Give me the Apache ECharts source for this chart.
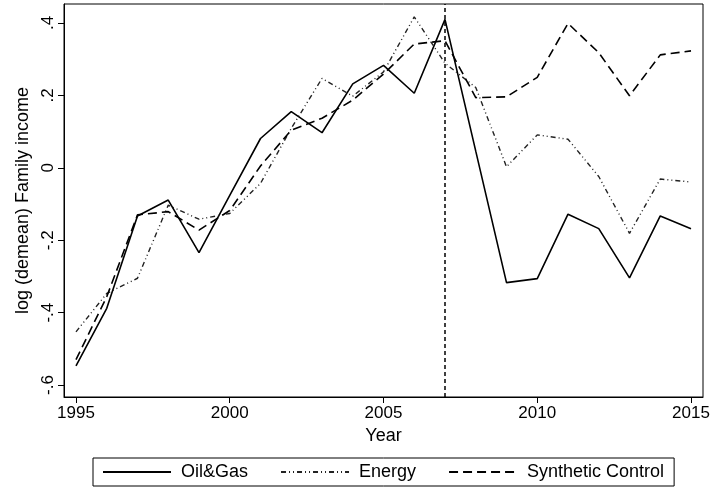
<!DOCTYPE html>
<html>
<head>
<meta charset="utf-8">
<script src="https://cdn.jsdelivr.net/npm/echarts@6/dist/echarts.min.js"></script>
<style>
  html, body { margin: 0; padding: 0; background: #fff; }
  #chart { width: 711px; height: 488px; }
</style>
</head>
<body>
<div id="chart"></div>
<script>
// ---- Data ----
const years = [1995,1996,1997,1998,1999,2000,2001,2002,2003,2004,2005,2006,2007,2008,2009,2010,2011,2012,2013,2014,2015];
const oilGas = [-0.547,-0.388,-0.133,-0.089,-0.234,-0.076,0.081,0.155,0.097,0.232,0.283,0.206,0.410,0.046,-0.317,-0.306,-0.128,-0.168,-0.304,-0.133,-0.168];
const energy = [-0.453,-0.347,-0.305,-0.103,-0.142,-0.126,-0.043,0.109,0.247,0.198,0.265,0.417,0.289,0.222,0.003,0.091,0.079,-0.024,-0.181,-0.031,-0.039];
const synthetic = [-0.530,-0.356,-0.130,-0.121,-0.172,-0.118,0.005,0.104,0.137,0.187,0.259,0.342,0.351,0.194,0.196,0.250,0.399,0.318,0.199,0.312,0.323];
const seriesNames = ['Oil&Gas','Energy','Synthetic Control'];
const xTicks = [1995,2000,2005,2010,2015];
const yTicks = [-0.6,-0.4,-0.2,0,0.2,0.4];
const treatmentYear = 2007;
const xTitle = 'Year';
const yTitle = 'log (demean) Family income';

const FONT = '"Liberation Sans", Arial, Helvetica, sans-serif';
function pairs(vals) { return years.map((y, i) => [y, vals[i]]); }
function fmtY(v) {
  const r = Math.round(v * 10) / 10;
  if (r === 0) return '0';
  return String(r).replace('0.', '.');
}

const chart = echarts.init(document.getElementById('chart'), null, { renderer: 'canvas' });
const lineBase = { type: 'line', symbol: 'none', showSymbol: false, animation: false, z: 3 };

chart.setOption({
  backgroundColor: '#ffffff',
  animation: false,
  grid: {
    left: 64, right: 8, top: 4, bottom: 91,
    containLabel: false, outerBoundsMode: 'none',
    show: true, borderColor: '#000', borderWidth: 1, backgroundColor: 'transparent'
  },
  xAxis: {
    type: 'value',
    min: 1994.61, max: 2015.39,
    name: xTitle, nameLocation: 'middle', nameGap: 27,
    nameTextStyle: { fontFamily: FONT, fontSize: 18, color: '#000' },
    axisLine: { show: true, onZero: false, lineStyle: { color: '#000', width: 1 } },
    splitLine: { show: false },
    axisTick: { show: true, length: 6, inside: false, customValues: xTicks, lineStyle: { color: '#000', width: 1 } },
    axisLabel: { customValues: xTicks, margin: 8, fontFamily: FONT, fontSize: 17, color: '#000', formatter: v => String(v) }
  },
  yAxis: {
    type: 'value',
    min: -0.633, max: 0.4525,
    name: yTitle, nameLocation: 'middle', nameGap: 27, nameRotate: 90,
    nameTextStyle: { fontFamily: FONT, fontSize: 18, color: '#000' },
    axisLine: { show: true, onZero: false, lineStyle: { color: '#000', width: 1 } },
    splitLine: { show: false },
    axisTick: { show: true, length: 6, inside: false, customValues: yTicks, lineStyle: { color: '#000', width: 1 } },
    axisLabel: { customValues: yTicks, rotate: 90, margin: 7, fontFamily: FONT, fontSize: 17, color: '#000', formatter: fmtY }
  },
  legend: {
    show: true,
    left: 93, bottom: 2,
    orient: 'horizontal',
    data: seriesNames,
    itemWidth: 68, itemHeight: 14, itemGap: 32,
    padding: [5, 10, 5, 9],
    borderColor: '#000', borderWidth: 1,
    itemStyle: { opacity: 0 },
    textStyle: { fontFamily: FONT, fontSize: 18, color: '#000', padding: [0, 0, 0, 5] }
  },
  series: [
    Object.assign({}, lineBase, {
      name: seriesNames[0], data: pairs(oilGas),
      lineStyle: { color: '#000', width: 1.6, type: 'solid' },
      itemStyle: { color: '#000' },
      markLine: {
        symbol: 'none', silent: true, animation: false,
        label: { show: false },
        lineStyle: { color: '#000', width: 1.5, type: [4, 3] },
        data: [{ xAxis: treatmentYear }]
      }
    }),
    Object.assign({}, lineBase, {
      name: seriesNames[1], data: pairs(energy),
      lineStyle: { color: '#222', width: 1.4, type: [5, 3, 1, 3, 1, 3] },
      itemStyle: { color: '#222' }
    }),
    Object.assign({}, lineBase, {
      name: seriesNames[2], data: pairs(synthetic),
      lineStyle: { color: '#000', width: 1.6, type: [9, 5] },
      itemStyle: { color: '#000' }
    })
  ]
});
</script>
</body>
</html>
